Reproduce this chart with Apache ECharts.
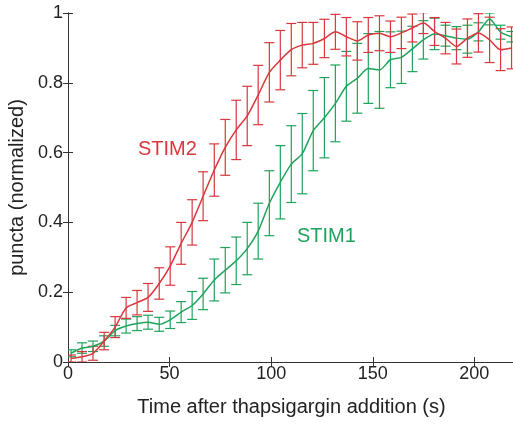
<!DOCTYPE html>
<html>
<head>
<meta charset="utf-8">
<script src="https://cdn.jsdelivr.net/npm/echarts@6/dist/echarts.min.js"></script>
<style>
html,body{margin:0;padding:0;background:#fff;}
#chart{width:513px;height:427px;}
</style>
</head>
<body>
<div id="chart"></div>
<script>
const times = [1.5, 6.9, 12.3, 17.8, 23.2, 28.6, 34.0, 39.4, 44.9, 50.3, 55.7, 61.1, 66.5, 72.0, 77.4, 82.8, 88.2, 93.6, 99.1, 104.5, 109.9, 115.3, 120.7, 126.2, 131.6, 137.0, 142.4, 147.8, 153.3, 158.7, 164.1, 169.5, 174.9, 180.4, 185.8, 191.2, 196.6, 202.0, 207.5, 212.9, 218.3];
const stim2 = [0.01, 0.015, 0.025, 0.06, 0.10, 0.155, 0.17, 0.185, 0.225, 0.275, 0.34, 0.40, 0.475, 0.55, 0.615, 0.665, 0.705, 0.765, 0.83, 0.865, 0.895, 0.908, 0.913, 0.927, 0.946, 0.932, 0.92, 0.937, 0.942, 0.932, 0.943, 0.957, 0.971, 0.947, 0.928, 0.904, 0.928, 0.943, 0.923, 0.895, 0.90];
const stim2Err = [0.01, 0.015, 0.02, 0.025, 0.03, 0.03, 0.035, 0.04, 0.045, 0.055, 0.06, 0.065, 0.07, 0.075, 0.08, 0.085, 0.085, 0.085, 0.085, 0.085, 0.075, 0.065, 0.06, 0.055, 0.05, 0.055, 0.055, 0.05, 0.05, 0.045, 0.045, 0.04, 0.03, 0.04, 0.045, 0.05, 0.055, 0.055, 0.065, 0.06, 0.06];
const stim1 = [0.025, 0.04, 0.045, 0.06, 0.09, 0.103, 0.11, 0.114, 0.108, 0.121, 0.143, 0.162, 0.195, 0.235, 0.263, 0.29, 0.325, 0.375, 0.455, 0.515, 0.567, 0.597, 0.663, 0.70, 0.741, 0.79, 0.813, 0.841, 0.837, 0.866, 0.873, 0.897, 0.923, 0.94, 0.935, 0.928, 0.925, 0.946, 0.983, 0.945, 0.932];
const stim1Err = [0.01, 0.015, 0.015, 0.015, 0.015, 0.02, 0.02, 0.02, 0.02, 0.025, 0.03, 0.04, 0.045, 0.06, 0.065, 0.068, 0.075, 0.08, 0.093, 0.105, 0.11, 0.115, 0.115, 0.115, 0.11, 0.1, 0.1, 0.1, 0.11, 0.08, 0.075, 0.065, 0.055, 0.045, 0.03, 0.033, 0.04, 0.026, 0.017, 0.02, 0.015];
const xTicks = [0, 50, 100, 150, 200];
const yTicks = [0, 0.2, 0.4, 0.6, 0.8, 1];

const RED = '#d8383d';
const GREEN = '#1fa35c';
const FONT = 'Liberation Sans, Arial, sans-serif';

function lineData(vals) { return times.map((t, i) => [t, vals[i]]); }
function errData(vals, errs) { return times.map((t, i) => [t, vals[i] - errs[i], vals[i] + errs[i]]); }
function errRender(color) {
  return function (params, api) {
    const x = api.value(0);
    const lo = api.coord([x, api.value(1)]);
    const hi = api.coord([x, api.value(2)]);
    const w = 5;
    const st = { stroke: color, lineWidth: 1.2 };
    return {
      type: 'group',
      children: [
        { type: 'line', shape: { x1: hi[0], y1: hi[1], x2: lo[0], y2: lo[1] }, style: st },
        { type: 'line', shape: { x1: hi[0] - w, y1: hi[1], x2: hi[0] + w, y2: hi[1] }, style: st },
        { type: 'line', shape: { x1: lo[0] - w, y1: lo[1], x2: lo[0] + w, y2: lo[1] }, style: st }
      ]
    };
  };
}

const chart = echarts.init(document.getElementById('chart'), null, { renderer: 'canvas' });
const axisCommon = {
  axisLine: { show: true, lineStyle: { color: '#333', width: 1 } },
  axisTick: { show: true, inside: true, length: 5, lineStyle: { color: '#333' } },
  splitLine: { show: false }
};
chart.setOption({
  animation: false,
  backgroundColor: '#fff',
  grid: { left: 68, top: 13, width: 447, height: 349, containLabel: false, outerBoundsMode: 'none' },
  xAxis: [
    Object.assign({
      type: 'value', min: 0, max: 220, interval: 50,
      name: 'Time after thapsigargin addition (s)', nameLocation: 'middle', nameGap: 35,
      nameTextStyle: { fontFamily: FONT, fontSize: 20, color: '#222' },
      axisLabel: { fontFamily: FONT, fontSize: 18, color: '#222', margin: 3,
        formatter: v => xTicks.indexOf(v) >= 0 ? String(v) : '' }
    }, axisCommon),
    Object.assign({
      type: 'value', min: 0, max: 220, interval: 50, position: 'top',
      axisLabel: { show: false }
    }, axisCommon)
  ],
  yAxis: [
    Object.assign({
      type: 'value', min: 0, max: 1, interval: 0.2,
      name: 'puncta (normalized)', nameLocation: 'middle', nameGap: 41,
      nameTextStyle: { fontFamily: FONT, fontSize: 20, color: '#222' },
      axisLabel: { fontFamily: FONT, fontSize: 18, color: '#222', margin: 5,
        formatter: v => { const r = Math.round(v * 10) / 10; return yTicks.indexOf(r) >= 0 ? String(r) : ''; } }
    }, axisCommon),
    Object.assign({
      type: 'value', min: 0, max: 1, interval: 0.2, position: 'right',
      axisLabel: { show: false }
    }, axisCommon)
  ],
  series: [
    { type: 'custom', xAxisIndex: 0, yAxisIndex: 0, renderItem: errRender(GREEN), data: errData(stim1, stim1Err), clip: true, z: 2 },
    { type: 'custom', xAxisIndex: 0, yAxisIndex: 0, renderItem: errRender(RED), data: errData(stim2, stim2Err), clip: true, z: 2 },
    { type: 'line', name: 'STIM1', data: lineData(stim1), showSymbol: false, smooth: 0.25, clip: true,
      lineStyle: { color: GREEN, width: 1.5 }, z: 3 },
    { type: 'line', name: 'STIM2', data: lineData(stim2), showSymbol: false, smooth: 0.25, clip: true,
      lineStyle: { color: RED, width: 1.5 }, z: 3 }
  ],
  graphic: [
    { type: 'text', x: 138, y: 149, style: { text: 'STIM2', fill: RED, font: '20px ' + FONT, verticalAlign: 'middle' } },
    { type: 'text', x: 297, y: 236, style: { text: 'STIM1', fill: GREEN, font: '20px ' + FONT, verticalAlign: 'middle' } }
  ]
});
</script>
</body>
</html>
